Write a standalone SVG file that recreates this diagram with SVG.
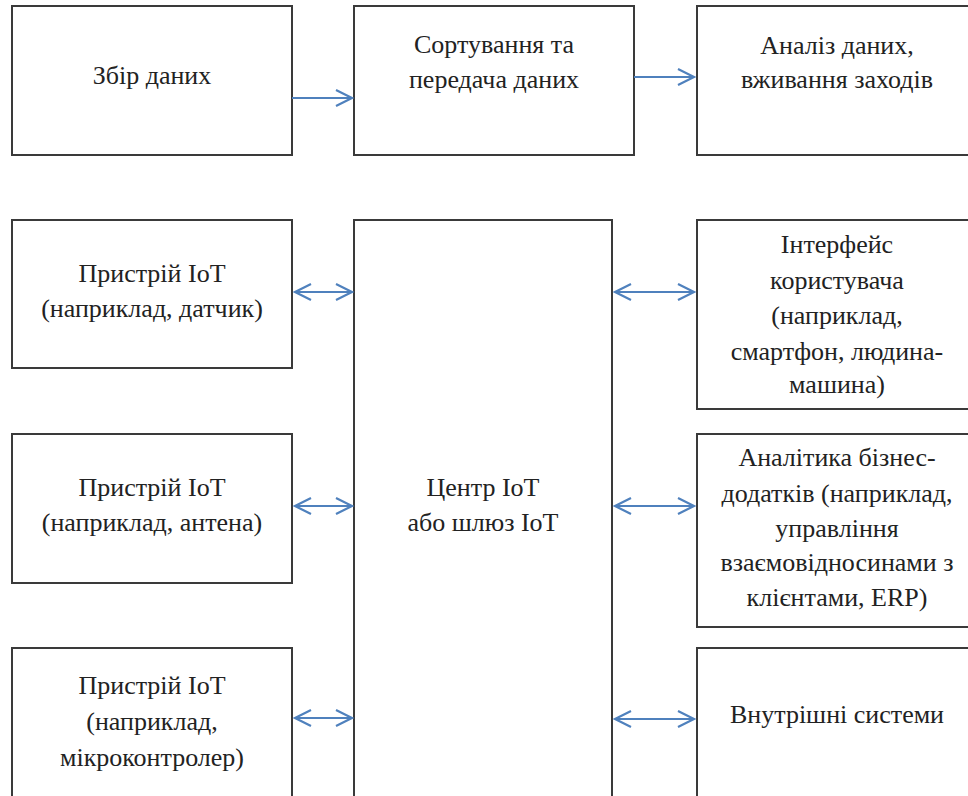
<svg xmlns="http://www.w3.org/2000/svg" width="968" height="796" viewBox="0 0 968 796">
<style>
.box{fill:#fff;stroke:#3a3a3a;stroke-width:2}
.t{font-size:26px;fill:#222;text-anchor:middle}
.c{stroke:#4f81bd;stroke-width:2;fill:none}
</style>
<defs>
<marker id="ah" viewBox="0 0 20 20" refX="17" refY="10" markerWidth="20" markerHeight="20" markerUnits="userSpaceOnUse" orient="auto-start-reverse">
<path d="M1,2 L17,10 L1,18" fill="none" stroke="#4f81bd" stroke-width="2.2"/>
</marker>
</defs>
<rect width="968" height="796" fill="#fff"/>
<g id="nodes" font-family="'Liberation Serif','Times New Roman',serif">
<g id="n1"><rect class="box" x="12" y="6" width="280" height="149"/><text class="t" x="152" y="84">Збір даних</text></g>
<g id="n2"><rect class="box" x="354" y="6" width="280" height="149"/><text class="t" x="494" y="53">Сортування та</text><text class="t" x="494" y="88">передача даних</text></g>
<g id="n3"><rect class="box" x="697" y="6" width="280" height="149"/><text class="t" x="837" y="54">Аналіз даних,</text><text class="t" x="837" y="88">вживання заходів</text></g>
<g id="d1"><rect class="box" x="12" y="220" width="280" height="148"/><text class="t" x="152" y="282">Пристрій IoT</text><text class="t" x="152" y="317">(наприклад, датчик)</text></g>
<g id="d2"><rect class="box" x="12" y="434" width="280" height="149"/><text class="t" x="152" y="496">Пристрій IoT</text><text class="t" x="152" y="531">(наприклад, антена)</text></g>
<g id="d3"><rect class="box" x="12" y="648" width="280" height="160"/><text class="t" x="152" y="694">Пристрій IoT</text><text class="t" x="152" y="730">(наприклад,</text><text class="t" x="152" y="766">мікроконтролер)</text></g>
<g id="hub"><rect class="box" x="354" y="220" width="258" height="590"/><text class="t" x="483" y="496">Центр IoT</text><text class="t" x="483" y="531">або шлюз IoT</text></g>
<g id="r1"><rect class="box" x="697" y="220" width="280" height="189"/><text class="t" x="837" y="253">Інтерфейс</text><text class="t" x="837" y="289">користувача</text><text class="t" x="837" y="324">(наприклад,</text><text class="t" x="837" y="360">смартфон, людина-</text><text class="t" x="837" y="393">машина)</text></g>
<g id="r2"><rect class="box" x="697" y="434" width="280" height="193"/><text class="t" x="837" y="466">Аналітика бізнес-</text><text class="t" x="837" y="502">додатків (наприклад,</text><text class="t" x="837" y="537">управління</text><text class="t" x="837" y="571">взаємовідносинами з</text><text class="t" x="837" y="606">клієнтами, ERP)</text></g>
<g id="r3"><rect class="box" x="697" y="648" width="280" height="160"/><text class="t" x="837" y="723">Внутрішні системи</text></g>
</g>
<g id="connectors">
<line class="c" x1="292" y1="98" x2="352" y2="98" marker-end="url(#ah)"/>
<line class="c" x1="634" y1="77" x2="694" y2="77" marker-end="url(#ah)"/>
<line class="c" x1="295" y1="292" x2="352" y2="292" marker-start="url(#ah)" marker-end="url(#ah)"/>
<line class="c" x1="295" y1="506" x2="352" y2="506" marker-start="url(#ah)" marker-end="url(#ah)"/>
<line class="c" x1="295" y1="718" x2="352" y2="718" marker-start="url(#ah)" marker-end="url(#ah)"/>
<line class="c" x1="615" y1="292" x2="694" y2="292" marker-start="url(#ah)" marker-end="url(#ah)"/>
<line class="c" x1="615" y1="506" x2="694" y2="506" marker-start="url(#ah)" marker-end="url(#ah)"/>
<line class="c" x1="615" y1="719" x2="694" y2="719" marker-start="url(#ah)" marker-end="url(#ah)"/>
</g>
</svg>
